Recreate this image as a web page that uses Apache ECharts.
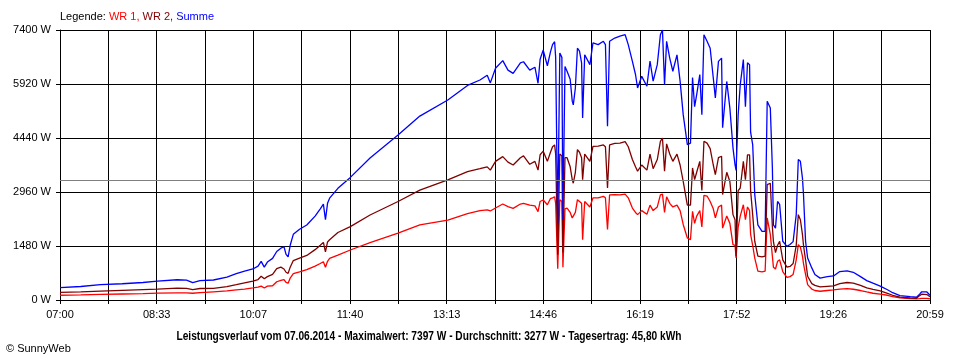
<!DOCTYPE html>
<html>
<head>
<meta charset="utf-8">
<script src="https://cdn.jsdelivr.net/npm/echarts@6/dist/echarts.min.js"></script>
<style>
html,body{margin:0;padding:0;background:#fff;}
#chart{width:960px;height:360px;}
</style>
</head>
<body>
<div id="chart"></div>
<script>
// minutes after 07:00
var times = [0,20,39,60,80,94,113,122,128,135,148,161,170,178,186,191,194,197,200,205,209,213,216,218,220,222,225,231,238,246,251,254,256,258,260,268,280,299,326,347,374,393,405,412,415,420,427,432,437,444,447,453,458,461,463,466,470,473,475,477,478,480,482,484,485,487,489,492,494,495,497,499,501,503,504,506,511,514,519,524,526,528,530,535,540,545,548,552,555,557,561,566,569,572,576,579,581,583,585,588,591,595,598,601,605,608,610,612,614,617,619,621,624,627,630,632,635,638,639,643,646,649,651,652,654,656,659,661,663,665,666,668,670,673,677,680,682,685,687,688,690,692,694,697,701,704,707,710,712,714,716,717,719,721,725,728,733,740,746,752,759,765,772,778,784,791,798,803,810,820,826,829,831,836,839];
var wr1 = [130,140,155,165,175,190,195,195,185,200,225,250,280,300,330,350,380,330,380,390,500,540,560,480,460,600,720,770,830,930,1000,1050,900,1060,1140,1230,1370,1570,1830,2060,2190,2370,2450,2470,2440,2520,2630,2560,2510,2630,2650,2600,2580,2420,2700,2740,2610,2780,2800,2830,2650,860,2750,2700,900,2500,2520,2400,2250,2200,2400,2750,2700,2650,1650,2700,2550,2800,2800,2840,2800,1930,2880,2890,2880,2900,2800,2520,2400,2340,2450,2350,2600,2450,2550,2880,2900,2400,2830,2650,2550,2600,2450,2070,1700,1650,2430,2100,2300,2450,2000,2870,2850,2700,2500,2250,2550,2600,1970,2300,2100,1520,1500,1150,2000,2300,2610,2200,2550,2450,1800,1500,1150,790,770,790,2250,1800,1200,900,850,1060,1100,780,620,640,700,1100,1520,1450,1200,1000,700,420,300,260,240,260,275,300,310,295,260,220,185,160,130,90,60,40,30,35,45,45,30];
var wr2 = [210,225,245,265,285,300,325,320,285,315,320,365,420,470,520,560,650,580,640,700,860,900,850,760,730,900,1080,1150,1220,1380,1500,1580,1320,1590,1650,1850,2010,2330,2700,3010,3290,3520,3600,3650,3560,3800,3930,3780,3700,3900,3950,3720,3800,3560,3980,4080,3800,4050,4200,4250,4000,1240,4000,3950,1300,3900,3900,3650,3300,3200,3500,4120,4050,3900,3300,4000,3800,4210,4220,4250,4200,3070,4250,4290,4300,4340,4200,3850,3650,3530,3700,3560,4000,3600,3850,4350,4440,3530,4280,4000,3800,4000,3700,3250,2600,2600,3620,3300,3500,3800,3000,4350,4300,4150,3700,3435,3900,3940,2890,3500,3250,2340,2200,1200,3000,3070,3800,3300,3980,3980,3000,2340,1610,1200,1180,1200,3160,3200,2000,1600,1300,1500,1610,1100,900,920,1000,1500,2340,2200,1800,1500,1100,650,450,400,360,375,385,450,480,460,400,330,290,250,180,130,80,55,45,120,160,150,90];
var summe = [340,370,420,445,480,520,555,545,475,530,548,630,720,790,850,930,1060,900,1040,1140,1330,1420,1460,1250,1180,1500,1800,1940,2055,2300,2500,2630,2200,2650,2790,3060,3360,3890,4520,5040,5480,5880,6030,6160,5950,6350,6560,6300,6210,6500,6530,6300,6380,5940,6600,6850,6420,6800,7000,7080,6650,2100,6770,6650,2200,6400,6270,6050,5450,5350,5810,6900,6820,6500,4990,6720,6450,7050,7000,7090,7000,4760,7090,7180,7230,7270,7000,6540,6180,5810,6130,5860,6550,6000,6450,7270,7397,5900,7090,6630,6270,6720,6000,5080,4260,4300,6100,5300,5630,6180,5080,7270,7090,6900,6085,5540,6540,6630,4720,5990,5260,4170,3700,3550,5080,5900,6590,5300,6500,6450,4600,4260,2890,2060,1880,1880,5450,5260,3620,2060,1970,2700,2620,1610,1470,1520,1600,2340,3850,3800,3340,2890,1610,1150,880,700,600,640,660,780,800,760,640,530,460,380,280,200,120,90,75,160,225,220,130];
var average = 3277;
var xTickLabels = ['07:00','08:33','10:07','11:40','13:13','14:46','16:19','17:52','19:26','20:59'];
var spanMin = 839;
var legendParts = ['Legende: ','WR 1, ','WR 2, ','Summe'];
var titleText = 'Leistungsverlauf vom 07.06.2014 - Maximalwert: 7397 W - Durchschnitt: 3277 W - Tagesertrag: 45,80 kWh';
var copyright = '\u00A9 SunnyWeb';

function pairs(arr){ return times.map(function(t,i){ return [t, arr[i]]; }); }

var FONT = '"Liberation Sans", Arial, sans-serif';
var cnv = document.createElement('canvas').getContext('2d');
cnv.font = 'bold 12px "Liberation Sans"';
var titleW = cnv.measureText(titleText).width;
var titleScale = 505 / titleW;

var step = spanMin / 18;
var LW = 1.3;
var chart = echarts.init(document.getElementById('chart'), null, {renderer:'canvas'});
chart.setOption({
  animation: false,
  backgroundColor: '#fff',
  grid: {left: 60, right: 30, top: 30, bottom: 60, containLabel: false},
  xAxis: {
    type: 'value', min: 0, max: spanMin, interval: step,
    axisLine: {lineStyle: {color: '#000', width: 1}},
    axisTick: {length: 4, lineStyle: {color: '#000'}},
    splitLine: {show: true, lineStyle: {color: '#000', width: 1}},
    axisLabel: {
      color: '#000', fontSize: 11, fontFamily: FONT, margin: 9, hideOverlap: false,
      showMinLabel: true, showMaxLabel: true,
      formatter: function(v){
        var k = Math.round(v / step);
        if (Math.abs(v - k*step) > 0.5) return '';
        if (k % 2 !== 0) return '';
        return xTickLabels[k/2] || '';
      }
    }
  },
  yAxis: {
    type: 'value', min: 0, max: 7400, interval: 1480,
    axisLine: {show: true, lineStyle: {color: '#000', width: 1}},
    axisTick: {show: true, length: 4, lineStyle: {color: '#000'}},
    splitLine: {show: true, lineStyle: {color: '#000', width: 1}},
    axisLabel: {color: '#000', fontSize: 11, fontFamily: FONT, margin: 9,
      formatter: function(v){ return Math.round(v) + ' W'; }}
  },
  series: [
    {name: 'Durchschnitt', type: 'line', data: [], silent: true,
     markLine: {silent: true, symbol: 'none', label: {show: false},
       lineStyle: {color: '#808080', width: 1, type: 'solid'},
       data: [{yAxis: average}]}},
    {name: 'WR 1', type: 'line', data: pairs(wr1), showSymbol: false, symbol: 'none',
     lineStyle: {color: '#ff0000', width: LW}, itemStyle: {color: '#ff0000'}},
    {name: 'WR 2', type: 'line', data: pairs(wr2), showSymbol: false, symbol: 'none',
     lineStyle: {color: '#800000', width: LW}, itemStyle: {color: '#800000'}},
    {name: 'Summe', type: 'line', data: pairs(summe), showSymbol: false, symbol: 'none',
     lineStyle: {color: '#0000ff', width: LW}, itemStyle: {color: '#0000ff'}}
  ],
  graphic: [
    {type: 'text', x: 60, y: 17, style: {
      text: '{k|' + legendParts[0] + '}{a|' + legendParts[1] + '}{b|' + legendParts[2] + '}{c|' + legendParts[3] + '}',
      font: '11px ' + FONT, textVerticalAlign: 'middle', textAlign: 'left',
      rich: {
        k: {fill: '#000', font: '11px ' + FONT},
        a: {fill: '#ff0000', font: '11px ' + FONT},
        b: {fill: '#800000', font: '11px ' + FONT},
        c: {fill: '#0000ff', font: '11px ' + FONT}
      }}},
    {type: 'text', x: 429, y: 337, scaleX: titleScale, style: {
      text: titleText, font: 'bold 12px ' + FONT, fill: '#000',
      textAlign: 'center', textVerticalAlign: 'middle'}},
    {type: 'text', x: 6, y: 349, style: {
      text: copyright, font: '11px ' + FONT, fill: '#000',
      textAlign: 'left', textVerticalAlign: 'middle'}}
  ]
});
</script>
</body>
</html>
